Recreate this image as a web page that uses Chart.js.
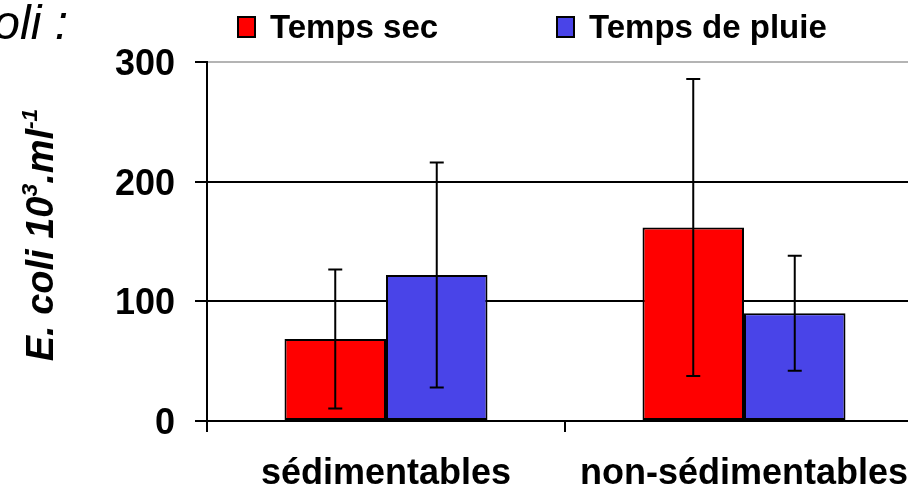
<!DOCTYPE html>
<html>
<head>
<meta charset="utf-8">
<script src="https://cdn.jsdelivr.net/npm/chart.js@4.4.0/dist/chart.umd.min.js"></script>
<style>
  html, body { margin: 0; padding: 0; background: #fff; overflow: hidden; }
  #wrap { width: 908px; height: 494px; overflow: hidden; }
  canvas { display: block; }
</style>
</head>
<body>
<div id="wrap"><canvas id="chart" width="940" height="494"></canvas></div>
<script>
const categories = ['sédimentables', 'non-sédimentables'];
const seriesNames = ['Temps sec', 'Temps de pluie'];
const tempsSec = [68.5, 161.7];
const tempsPluie = [122, 90];
const errSec = [58, 124];
const errPluie = [94, 48];
const yTicks = [0, 100, 200, 300];

const FONT = "'Liberation Sans', Arial, sans-serif";
Chart.defaults.font.family = FONT;
Chart.defaults.color = '#000';

// barres d'erreur (écart-type) dessinées sur les barres
const errorBars = {
    id: 'errorBars',
    afterDatasetsDraw(chart) {
        const ctx = chart.ctx;
        const yScale = chart.scales.y;
        ctx.save();
        ctx.strokeStyle = '#000';
        ctx.lineWidth = 2;
        chart.data.datasets.forEach((ds, i) => {
            const meta = chart.getDatasetMeta(i);
            meta.data.forEach((bar, j) => {
                const v = ds.data[j], e = ds.errors[j];
                const top = yScale.getPixelForValue(v + e);
                const bot = yScale.getPixelForValue(v - e);
                ctx.beginPath();
                ctx.moveTo(bar.x, top); ctx.lineTo(bar.x, bot);
                ctx.moveTo(bar.x - 7, top); ctx.lineTo(bar.x + 7, top);
                ctx.moveTo(bar.x - 7, bot); ctx.lineTo(bar.x + 7, bot);
                ctx.stroke();
            });
        });
        ctx.restore();
    }
};

// légende, titre de l'axe et fragment de titre en haut à gauche
const decorations = {
    id: 'decorations',
    afterDraw(chart) {
        const ctx = chart.ctx;
        ctx.save();

        // légende
        const boxX = [238, 557];
        chart.data.datasets.forEach((ds, i) => {
            ctx.fillStyle = ds.backgroundColor;
            ctx.strokeStyle = '#000';
            ctx.lineWidth = 2;
            ctx.fillRect(boxX[i], 17, 17, 20);
            ctx.strokeRect(boxX[i], 17, 17, 20);
            ctx.fillStyle = '#000';
            ctx.font = 'bold 33px ' + FONT;
            ctx.textBaseline = 'alphabetic';
            ctx.textAlign = 'left';
            ctx.fillText(ds.label, boxX[i] + 32, 38);
        });

        // fragment coupé du titre
        ctx.font = 'italic 48px ' + FONT;
        ctx.textAlign = 'right';
        ctx.fillText('E. coli :', 68, 39);

        // titre de l'axe Y avec exposants
        const size = 38;
        const parts = [
            ['E. coli 10', false], ['3', true], ['.ml', false], ['-1', true]
        ];
        ctx.translate(53, 235);
        ctx.rotate(-Math.PI / 2);
        ctx.textAlign = 'left';
        let total = 0;
        parts.forEach(p => {
            ctx.font = 'italic bold ' + (p[1] ? size * 0.6 : size) + 'px ' + FONT;
            total += ctx.measureText(p[0]).width;
        });
        let x = -total / 2;
        parts.forEach(p => {
            ctx.font = 'italic bold ' + (p[1] ? size * 0.6 : size) + 'px ' + FONT;
            ctx.fillText(p[0], x, p[1] ? -size * 0.42 : 0);
            x += ctx.measureText(p[0]).width;
        });
        ctx.restore();
    }
};

new Chart(document.getElementById('chart'), {
    type: 'bar',
    data: {
        labels: categories,
        datasets: [
            {
                label: seriesNames[0],
                data: tempsSec,
                errors: errSec,
                backgroundColor: '#ff0000',
                borderColor: '#000',
                borderWidth: 2,
                borderSkipped: false
            },
            {
                label: seriesNames[1],
                data: tempsPluie,
                errors: errPluie,
                backgroundColor: '#4944e8',
                borderColor: '#000',
                borderWidth: 2,
                borderSkipped: false
            }
        ]
    },
    options: {
        responsive: false,
        animation: false,
        devicePixelRatio: 1,
        layout: { padding: { left: 100, right: 17, top: 62, bottom: 0 } },
        datasets: { bar: { categoryPercentage: 0.567, barPercentage: 1.0 } },
        plugins: {
            legend: { display: false },
            tooltip: { enabled: false }
        },
        scales: {
            x: {
                afterFit: s => { s.height = 73; },
                grid: {
                    offset: true,
                    drawOnChartArea: false,
                    drawTicks: true,
                    tickLength: 11,
                    color: '#000',
                    lineWidth: 2
                },
                border: { color: '#000', width: 2 },
                ticks: {
                    padding: 20,
                    maxRotation: 0,
                    font: { size: 36, weight: 'bold' }
                }
            },
            y: {
                min: yTicks[0],
                max: yTicks[yTicks.length - 1],
                afterFit: s => { s.width = 107; },
                afterBuildTicks: s => { s.ticks = yTicks.map(v => ({ value: v })); },
                grid: {
                    color: c => (c.tick && c.tick.value === yTicks[yTicks.length - 1]) ? '#b4b4b4' : '#000',
                    tickColor: '#000',
                    lineWidth: 2,
                    tickLength: 12
                },
                border: { color: '#000', width: 2 },
                ticks: {
                    padding: 20,
                    labelOffset: 3,
                    font: { size: 36, weight: 'bold' }
                }
            }
        }
    },
    plugins: [errorBars, decorations]
});
</script>
</body>
</html>
